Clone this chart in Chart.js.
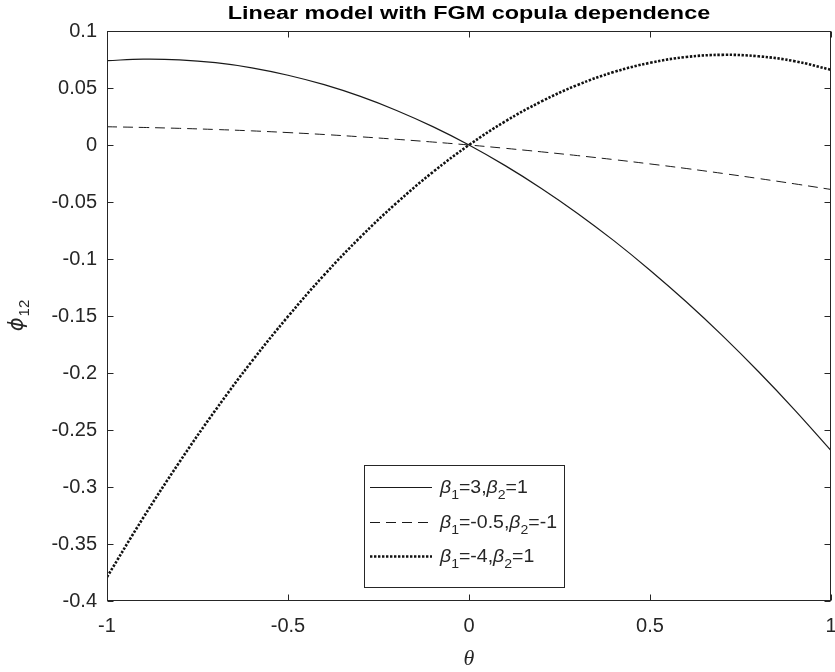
<!DOCTYPE html>
<html>
<head>
<meta charset="utf-8">
<script src="https://cdn.jsdelivr.net/npm/chart.js@4/dist/chart.umd.min.js"></script>
<style>
html,body{margin:0;padding:0;background:#ffffff;}
#wrap{width:835px;height:672px;position:relative;}
canvas{display:block;}
</style>
</head>
<body>
<div id="wrap"><canvas id="c" width="835" height="672"></canvas></div>
<script>
// ---- data ----
const theta = [-1,-0.9,-0.8,-0.7,-0.6,-0.5,-0.4,-0.3,-0.2,-0.1,0,0.1,0.2,0.3,0.4,0.5,0.6,0.7,0.8,0.9,1];
const phiA = [0.074,0.0753,0.0747,0.0722,0.0677,0.0612,0.0529,0.0426,0.0303,0.0161,0,-0.0181,-0.0381,-0.06,-0.0839,-0.1098,-0.1375,-0.1672,-0.1989,-0.2325,-0.268];
const phiB = [0.016,0.0154,0.0146,0.0136,0.0124,0.0109,0.0092,0.0072,0.005,0.0026,0,-0.0029,-0.006,-0.0093,-0.0128,-0.0166,-0.0206,-0.0249,-0.0294,-0.0341,-0.039];
const phiC = [-0.379,-0.327,-0.2782,-0.2324,-0.1898,-0.1504,-0.114,-0.0808,-0.0508,-0.0238,0,0.0207,0.0382,0.0527,0.064,0.0721,0.0772,0.0791,0.0778,0.0735,0.066];
const beta1 = ['3','-0.5','-4'];
const beta2 = ['1','-1','1'];
const xTicks = [-1,-0.5,0,0.5,1];
const xTickLabels = ['-1','-0.5','0','0.5','1'];
const yTicks = [-0.4,-0.35,-0.3,-0.25,-0.2,-0.15,-0.1,-0.05,0,0.05,0.1];
const yTickLabels = ['-0.4','-0.35','-0.3','-0.25','-0.2','-0.15','-0.1','-0.05','0','0.05','0.1'];
const titleText = 'Linear model with FGM copula dependence';
const xTitle = 'θ';
const yTitleMain = 'ϕ';
const yTitleSub = '12';

const INK = '#262626';
const toPts = (ys) => theta.map((t, i) => ({x: t, y: ys[i]}));

const lineStyles = [
  {borderColor: '#1a1a1a', borderWidth: 1.2, borderDash: []},
  {borderColor: '#1a1a1a', borderWidth: 1, borderDash: [10, 6]},
  {borderColor: '#111111', borderWidth: 2.6, borderDash: [2.4, 1.6]}
];
const series = [phiA, phiB, phiC];

const datasets = series.map((s, i) => Object.assign({
  label: 'β' + '1=' + beta1[i] + ',β' + '2=' + beta2[i],
  data: toPts(s),
  pointRadius: 0,
  fill: false,
  tension: 0.4,
  borderCapStyle: 'butt'
}, lineStyles[i]));

function drawStretched(ctx, text, x, y, font, sx, align) {
  ctx.save();
  ctx.font = font;
  const w = ctx.measureText(text).width * sx;
  let x0 = x;
  if (align === 'center') x0 = x - w / 2;
  else if (align === 'right') x0 = x - w;
  ctx.translate(x0, y);
  ctx.scale(sx, 1);
  ctx.textAlign = 'left';
  ctx.fillText(text, 0, 0);
  ctx.restore();
  return w;
}

const decor = {
  id: 'decor',
  afterDraw(chart) {
    const ctx = chart.ctx;
    const ca = chart.chartArea;
    const xs = chart.scales.x, ys = chart.scales.y;
    const L = Math.round(ca.left) + 0.5, R = Math.round(ca.right) - 0.5;
    const T = Math.round(ca.top) + 0.5, B = Math.round(ca.bottom) - 0.5;
    ctx.save();
    // axes box
    ctx.strokeStyle = INK;
    ctx.lineWidth = 1;
    ctx.setLineDash([]);
    ctx.strokeRect(L, T, R - L, B - T);
    // inward tick marks on all four sides
    const tl = 6;
    ctx.beginPath();
    xTicks.forEach(v => {
      const px = Math.round(xs.getPixelForValue(v)) + 0.5;
      ctx.moveTo(px, B); ctx.lineTo(px, B - tl);
      ctx.moveTo(px, T); ctx.lineTo(px, T + tl);
    });
    yTicks.forEach(v => {
      const py = Math.round(ys.getPixelForValue(v)) + 0.5;
      ctx.moveTo(L, py); ctx.lineTo(L + tl, py);
      ctx.moveTo(R, py); ctx.lineTo(R - tl, py);
    });
    ctx.stroke();

    // title
    ctx.fillStyle = '#000000';
    ctx.textBaseline = 'alphabetic';
    const cx = (ca.left + ca.right) / 2;
    drawStretched(ctx, titleText, cx, 19, 'bold 18px "Liberation Sans", Arial, sans-serif', 1.3, 'center');

    // x axis title
    ctx.fillStyle = INK;
    ctx.font = 'italic 22px "Liberation Serif", "DejaVu Serif", serif';
    ctx.textAlign = 'center';
    ctx.fillText(xTitle, cx, 665);

    // y axis title (rotated, with subscript)
    const cy = (ca.top + ca.bottom) / 2;
    ctx.save();
    ctx.translate(23, cy);
    ctx.rotate(-Math.PI / 2);
    ctx.textAlign = 'left';
    ctx.font = 'italic 21px "DejaVu Sans", sans-serif';
    const wm = ctx.measureText(yTitleMain).width;
    ctx.font = '15px "Liberation Sans", Arial, sans-serif';
    const ws = ctx.measureText(yTitleSub).width;
    const start = -(wm + ws) / 2;
    ctx.font = 'italic 21px "DejaVu Sans", sans-serif';
    ctx.fillText(yTitleMain, start, 0);
    ctx.font = '15px "Liberation Sans", Arial, sans-serif';
    ctx.fillText(yTitleSub, start + wm + 1, 6);
    ctx.restore();

    // legend box
    const bx = 364, by = 465, bw = 200, bh = 122;
    ctx.fillStyle = '#ffffff';
    ctx.fillRect(bx, by, bw, bh);
    ctx.strokeStyle = INK;
    ctx.lineWidth = 1;
    ctx.strokeRect(bx + 0.5, by + 0.5, bw, bh);
    const rows = [487, 522, 556];
    const mainFont = '18px "Liberation Sans", Arial, sans-serif';
    const betaFont = 'italic 18px "Liberation Sans", Arial, sans-serif';
    const subFont = '13px "Liberation Sans", Arial, sans-serif';
    const textX = 440;
    const rowParts = beta1.map((b1, i) => [
      ['β', betaFont, 0], ['1', subFont, 6], ['=' + b1 + ',', mainFont, 0],
      ['β', betaFont, 0], ['2', subFont, 6], ['=' + beta2[i], mainFont, 0]
    ]);
    // natural widths, then fit the widest row inside the box
    let maxW = 0;
    rowParts.forEach(parts => {
      let w = 0;
      parts.forEach(p => { ctx.font = p[1]; w += ctx.measureText(p[0]).width; });
      maxW = Math.max(maxW, w);
    });
    const sx = Math.min(1.3, (bx + bw - 7 - textX) / maxW);
    chart.data.datasets.forEach((ds, i) => {
      const ry = rows[i];
      ctx.save();
      ctx.strokeStyle = ds.borderColor;
      ctx.lineWidth = ds.borderWidth;
      ctx.lineCap = 'butt';
      ctx.setLineDash(ds.borderDash || []);
      ctx.beginPath();
      ctx.moveTo(370, ry + 0.5);
      ctx.lineTo(432, ry + 0.5);
      ctx.stroke();
      ctx.restore();
      ctx.fillStyle = INK;
      ctx.textBaseline = 'alphabetic';
      let x = textX;
      const base = ry + 6;
      rowParts[i].forEach(p => {
        x += drawStretched(ctx, p[0], x, base + p[2], p[1], sx, 'left');
      });
    });
    ctx.restore();
  }
};

new Chart(document.getElementById('c'), {
  type: 'line',
  data: {datasets: datasets},
  options: {
    responsive: false,
    animation: false,
    devicePixelRatio: 1,
    layout: {padding: {top: 31, right: 4, left: 0, bottom: 0}},
    plugins: {legend: {display: false}, tooltip: {enabled: false}, title: {display: false}},
    scales: {
      x: {
        type: 'linear', min: -1, max: 1,
        grid: {display: false, drawTicks: false},
        border: {display: false},
        afterBuildTicks: s => { s.ticks = xTicks.map(v => ({value: v})); },
        afterFit: s => { s.height = 71; s.paddingLeft = 0; s.paddingRight = 0; },
        ticks: {
          font: {family: '"Liberation Sans", Arial, sans-serif', size: 20},
          color: INK, padding: 13, maxRotation: 0, autoSkip: false,
          callback: v => xTickLabels[xTicks.indexOf(v)]
        }
      },
      y: {
        type: 'linear', min: -0.4, max: 0.1,
        grid: {display: false, drawTicks: false},
        border: {display: false},
        afterBuildTicks: s => { s.ticks = yTicks.map(v => ({value: v})); },
        afterFit: s => { s.width = 107; s.paddingTop = 0; s.paddingBottom = 0; },
        ticks: {
          font: {family: '"Liberation Sans", Arial, sans-serif', size: 20},
          color: INK, padding: 10, autoSkip: false,
          callback: v => yTickLabels[yTicks.indexOf(v)]
        }
      }
    }
  },
  plugins: [decor]
});
</script>
</body>
</html>
